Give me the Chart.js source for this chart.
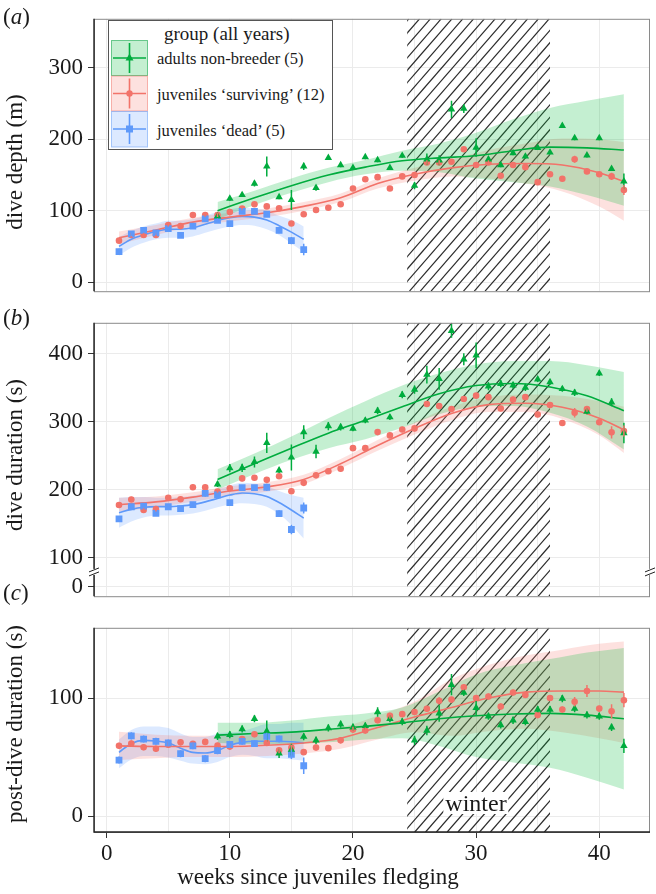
<!DOCTYPE html>
<html>
<head>
<meta charset="utf-8">
<script src="https://cdn.jsdelivr.net/npm/chart.js@4.4.0/dist/chart.umd.min.js"></script>
<style>
  body { margin: 0; background: #fff; width: 656px; height: 894px; position: relative; overflow: hidden;
         font-family: "Liberation Serif", "Times New Roman", serif; color: #1a1a1a; }
  canvas { position: absolute; left: 0; }
  .tag { position: absolute; left: 3px; font-size: 23px; line-height: 26px; }
  .ytitle { position: absolute; left: 15px; font-size: 23px; white-space: nowrap; line-height: 26px;
            transform: translate(-50%, -50%) rotate(-90deg); }
  #xtitle { position: absolute; left: 318px; top: 877px; font-size: 23px; white-space: nowrap; line-height: 26px;
            transform: translate(-50%, -50%); }
  #winter { position: absolute; left: 476px; top: 803px; font-size: 24px; line-height: 22px; background: #fff;
            padding: 0 2px; transform: translate(-50%, -50%); }
  #legend { position: absolute; left: 108px; top: 20px; width: 223px; height: 128px; border: 1px solid #555; background: #fff; }
  #legend .ttl { position: absolute; left: 55px; top: 1px; font-size: 19px; line-height: 24px; white-space: nowrap; }
  #legend .lab { position: absolute; left: 48px; font-size: 16.5px; line-height: 20px; white-space: nowrap; }
  #legend svg { position: absolute; left: 2px; top: 19px; }
</style>
</head>
<body>
<canvas id="cA" width="656" height="310" style="top:0px"></canvas>
<canvas id="cB" width="656" height="311" style="top:304px"></canvas>
<canvas id="cC" width="656" height="285" style="top:609px"></canvas>

<div class="tag" style="top:4px">(<i>a</i>)</div>
<div class="tag" style="top:305px">(<i>b</i>)</div>
<div class="tag" style="top:580px">(<i>c</i>)</div>
<div class="ytitle" style="top:162px">dive depth (m)</div>
<div class="ytitle" style="top:455px">dive duration (s)</div>
<div class="ytitle" style="top:724px">post-dive duration (s)</div>
<div id="xtitle">weeks since juveniles fledging</div>
<div id="winter">winter</div>

<div id="legend">
  <div class="ttl">group (all years)</div>
  <svg width="37" height="108" viewBox="0 0 37 108">
    <rect x="0.5" y="0.5" width="36" height="35" fill="rgba(0,186,56,0.23)" stroke="rgba(0,160,60,0.55)"/>
    <line x1="2" y1="18" x2="35" y2="18" stroke="#00AC3E" stroke-width="1.6"/>
    <line x1="18.5" y1="3" x2="18.5" y2="33" stroke="#00AC3E" stroke-width="1.6"/>
    <polygon points="18.5,13.5 22.5,20.5 14.5,20.5" fill="#00AC3E"/>
    <rect x="0.5" y="36" width="36" height="35" fill="rgba(248,118,109,0.22)" stroke="rgba(240,110,100,0.5)"/>
    <line x1="2" y1="53.5" x2="35" y2="53.5" stroke="#F2736A" stroke-width="1.6"/>
    <line x1="18.5" y1="38.5" x2="18.5" y2="68.5" stroke="#F2736A" stroke-width="1.6"/>
    <circle cx="18.5" cy="53.5" r="3.2" fill="#F2736A"/>
    <rect x="0.5" y="71.5" width="36" height="35.5" fill="rgba(97,156,255,0.22)" stroke="rgba(90,150,245,0.5)"/>
    <line x1="2" y1="89" x2="35" y2="89" stroke="#5E99FA" stroke-width="1.6"/>
    <line x1="18.5" y1="74" x2="18.5" y2="104" stroke="#5E99FA" stroke-width="1.6"/>
    <rect x="15" y="85.5" width="7" height="7" fill="#5E99FA"/>
  </svg>
  <div class="lab" style="top:28px">adults non-breeder (5)</div>
  <div class="lab" style="top:64px">juveniles ‘surviving’ (12)</div>
  <div class="lab" style="top:100px">juveniles ‘dead’ (5)</div>
</div>

<script>
// weeks
var weeksDead = [1, 2, 3, 4, 5, 6, 7, 8, 9, 10, 11, 12, 13, 14, 15, 16];
var weeksSurv = [1, 2, 3, 4, 5, 6, 7, 8, 9, 10, 11, 12, 13, 14, 15, 16, 17, 18, 19, 20, 21,
                 22, 23, 24, 25, 26, 27, 28, 29, 30, 31, 32, 33, 34, 35, 36, 37, 38, 39, 40, 41, 42];
var weeksAdult = [9, 10, 11, 12, 13, 14, 15, 16, 17, 18, 19, 20, 21, 22, 23, 24, 25,
                  26, 27, 28, 29, 30, 31, 32, 33, 34, 35, 36, 37, 38, 39, 40, 41, 42];
var winterStart = 24.4, winterEnd = 36;

// (a) dive depth (m)
var depthDead = [42.5, 67.5, 72.4, 68.8, 75, 65.3, 78.4, 88.5, 86.5, 82, 99, 99, 95, 72.4, 58, 45.5];
var depthSurv = [58, 66, 66, 66, 80, 78.4, 94, 94, 94, 98, 103, 109, 106, 103.5, 82, 95, 101, 104, 109, 131, 144,
                 147, 131, 148, 150, 167.5, 167.5, 168.5, 186, 164, 167.5, 149, 164, 161, 140, 151, 144.7, 172, 155, 151, 148, 129];
var depthAdult = [92, 117, 122, 138, 162, 119, 115, 162, 132, 174, 164, 160, 175, 171, 160, 177, 135,
                  172, 170.5, 242, 243, 188.5, 172, 164, 180.7, 176, 188, 181.6, 219, 201.7, 177.6, 201.7, 158.7, 141];
var depthDeadErr = [4, 3, 3, 3, 3, 3, 3, 3, 3, 3, 3, 3, 3, 4, 5, 8];
var depthSurvErr = [3, 3, 3, 3, 3, 3, 3, 3, 3, 3, 3, 3, 3, 3, 3, 3, 3, 3, 3, 3, 3,
                    3, 3, 3, 3, 3, 3, 3, 3, 3, 3, 3, 3, 3, 3, 3, 3, 5, 3, 3, 5, 7];
var depthAdultErr = [3, 3, 3, 4, 14, 3, 14, 5, 4, 3, 3, 3, 3, 3, 3, 3, 5,
                     8, 7, 12, 6, 13, 4, 3, 3, 3, 3, 3, 3, 3, 3, 3, 3, 11];
// smooth fits and bands
var deadFitW = [1, 2, 3, 4, 5, 6, 7, 8, 9, 10, 11, 12, 13, 14, 15, 16];
var depthDeadFit = [50, 60, 66, 71, 74, 74, 76, 81, 86, 90, 92, 91, 87, 79, 70, 60];
var depthDeadHi = [63, 72, 78, 82, 86, 86, 88, 93, 98, 102, 104, 103, 100, 93, 87, 78];
var depthDeadLo = [37, 48, 55, 60, 62, 62, 64, 69, 74, 78, 80, 79, 74, 66, 54, 42];
var survFitW = [1, 4, 7, 10, 13, 16, 19, 22, 25, 28, 31, 34, 37, 40, 42];
var depthSurvFit = [62, 73, 84, 91, 97, 106, 118, 138, 151, 160, 165, 166, 164, 153, 141];
var depthSurvHi = [71, 80, 90, 97, 103, 112, 124, 145, 160, 172, 185, 194, 201, 200, 196];
var depthSurvLo = [53, 66, 78, 85, 91, 100, 112, 131, 142, 148, 145, 138, 127, 106, 86];
var adultFitW = [9, 12, 15, 18, 21, 24, 27, 30, 33, 36, 39, 42];
var depthAdultFit = [100, 118, 135, 150, 161, 170, 174, 177, 184, 189, 188, 185];
var depthAdultHi = [112, 128, 145, 160, 171, 184, 194, 209, 228, 244, 254, 263];
var depthAdultLo = [88, 108, 125, 140, 151, 156, 154, 145, 140, 134, 122, 107];

// (b) dive duration (s)
var durDead = [157, 174.8, 175.6, 165, 174.8, 172.2, 178, 194.5, 192.4, 181, 203, 203, 203.5, 164.8, 141.4, 173];
var durSurv = [177.5, 185.4, 170, 171.3, 188, 185.8, 203.5, 203.3, 197, 202, 216.5, 217.4, 214.4, 219.6, 197.6, 210, 221, 227, 230.6, 261, 261,
               284.6, 279.7, 288.5, 290, 326, 322.8, 318.4, 333.3, 338.2, 336, 319.2, 332.4, 336, 310.5, 324.5, 298, 313.2, 318.4, 299, 284.2, 286.3];
var durAdult = [207.8, 231.5, 232, 240.7, 268.8, 228.3, 247.3, 284.6, 256, 293.4, 292, 289.9, 301.7, 316, 306.5, 339.5, 347,
                369, 363, 433.5, 391.7, 397.5, 352, 355.7, 353.5, 350, 362.3, 358, 348, 342.5, 314.9, 371, 328.5, 283.3];
var durDeadErr = [3, 3, 3, 3, 3, 3, 3, 5, 3, 3, 3, 3, 5, 5, 7, 8];
var durSurvErr = [4, 4, 4, 4, 4, 4, 4, 4, 4, 4, 4, 4, 4, 4, 4, 4, 4, 4, 4, 4, 4,
                  4, 4, 4, 4, 4, 4, 4, 4, 4, 4, 4, 4, 4, 4, 4, 4, 7, 4, 4, 9, 8];
var durAdultErr = [4, 6, 6, 8, 15, 4, 19, 10, 10, 6, 5, 4, 4, 5, 4, 5, 6,
                   13, 16, 10, 9, 19, 6, 5, 5, 5, 4, 4, 4, 5, 4, 4, 6, 15];
var durDeadFit = [166, 171, 174, 175, 175, 176, 178, 182, 187, 192, 195, 194, 190, 181, 170, 158];
var durDeadHi = [188, 189, 189, 188, 188, 189, 191, 195, 200, 206, 210, 209, 205, 198, 192, 188];
var durDeadLo = [144, 153, 159, 162, 162, 163, 165, 169, 174, 178, 180, 179, 175, 164, 148, 128];
var durSurvFit = [178, 182, 189, 198, 204, 215, 238, 265, 290, 312, 325, 327, 321, 305, 288];
var durSurvHi = [188, 190, 196, 205, 211, 222, 245, 273, 299, 322, 336, 340, 338, 330, 322];
var durSurvLo = [168, 174, 182, 191, 197, 208, 231, 257, 281, 302, 314, 314, 304, 280, 254];
var durAdultFit = [215, 238, 261, 283, 302, 322, 341, 353, 356, 351, 338, 316];
var durAdultHi = [230, 253, 278, 305, 330, 353, 371, 384, 389, 389, 383, 373];
var durAdultLo = [200, 223, 244, 261, 274, 291, 311, 322, 323, 313, 293, 259];

// (c) post-dive duration (s)
var postDead = [47.5, 68, 65.3, 63.4, 62, 52.9, 59.6, 48.7, 55.5, 60.7, 63.4, 61.5, 67.6, 65.4, 52.4, 42.7];
var postSurv = [59.6, 61.5, 58.4, 57.1, 60.5, 62.5, 61.2, 62.9, 59.7, 58.9, 65.4, 69.4, 62, 55.8, 58, 54.2, 58.1, 57.6, 64.2, 73.3, 72.5,
                81.2, 85, 86.4, 88.2, 90.9, 97.7, 98.7, 109.2, 100, 101.3, 92.9, 104.7, 102.7, 85.6, 100, 90.3, 96.9, 106, 91.1, 88.8, 98.2];
var postAdult = [67.6, 68.9, 73.8, 82.5, 72, 53.2, 56.3, 67.3, 64.2, 74.6, 77.8, 75.2, 76.4, 88.2, 82.5, 79.9, 64.2,
                 72.5, 87, 111.3, 104.7, 91.7, 84.6, 77.2, 81.1, 79.9, 90.3, 90.3, 99.5, 91.1, 85.6, 84.6, 75.2, 59.5];
var postDeadErr = [3, 3, 3, 3, 3, 3, 3, 3, 3, 3, 3, 3, 3, 3, 4, 7];
var postSurvErr = [2.5, 2.5, 2.5, 2.5, 2.5, 2.5, 2.5, 2.5, 2.5, 2.5, 2.5, 2.5, 2.5, 2.5, 2.5, 2.5, 2.5, 2.5, 2.5, 2.5, 2.5,
                   2.5, 2.5, 2.5, 2.5, 2.5, 3, 2.5, 2.5, 2.5, 2.5, 2.5, 2.5, 2.5, 2.5, 2.5, 2.5, 4, 5, 2.5, 6, 6];
var postAdultErr = [3, 3, 3, 3, 9, 4, 5, 3, 3, 3, 3, 3, 3, 4, 3, 3, 4,
                    4, 7, 9, 3, 6, 3, 3, 3, 3, 3, 3, 3, 3, 3, 3, 3, 6];
var postDeadFit = [54, 61.5, 64.2, 63.6, 62, 57.6, 54, 53.5, 55.5, 60, 62.5, 63.4, 63.4, 63.4, 63, 62];
var postDeadHi = [65, 73, 76, 76, 74.6, 70, 67, 67, 70, 71, 72, 75, 78, 78, 79, 79];
var postDeadLo = [40.6, 48, 51, 51, 49.7, 47, 44.5, 44, 45.8, 50, 52, 51, 49, 49, 48, 47];
var postSurvFit = [59.5, 59, 59, 59, 60, 62, 66, 75, 84, 92, 100, 105, 106, 106, 105];
var postSurvHi = [71.5, 69, 68, 68, 69, 71, 75, 85, 97, 116, 128, 136, 141, 146, 148];
var postSurvLo = [47.5, 49, 50, 50, 51, 53, 57, 65, 71, 68, 72, 74, 71, 66, 62];
var postAdultFit = [68.6, 70, 71.2, 73.5, 76, 79, 82.5, 85, 86.5, 87, 85.6, 82.5];
var postAdultHi = [79, 79, 81, 84.5, 87, 92, 105.5, 120, 127.5, 133, 138.6, 142.5];
var postAdultLo = [62, 61, 61, 62.5, 65, 66, 59.5, 50, 45.5, 41, 32.6, 22.5];

// axes
var xTicks = [0, 5, 10, 15, 20, 25, 30, 35, 40];
var depthTicks = [0, 100, 200, 300];
var durTicks = [57, 100, 200, 300, 400];   // 57 is where the broken axis shows "0"
var durTickLabels = ['0', '100', '200', '300', '400'];
var postTicks = [0, 100];

var GREEN = '#00AC3E', RED = '#F2736A', BLUE = '#5E99FA';
var GREEN_BAND = 'rgba(0,186,56,0.23)', RED_BAND = 'rgba(248,118,109,0.22)', BLUE_BAND = 'rgba(97,156,255,0.22)';

Chart.defaults.font.family = '"Liberation Serif", "Times New Roman", serif';
Chart.defaults.color = '#1a1a1a';

function xy(xs, ys) {
  return xs.map(function (x, i) { return { x: x, y: ys[i] }; });
}

function group(fitW, fit, hi, lo, weeks, vals, err, color, band, shape, radius, ptOrder) {
  return [
    { type: 'line', data: xy(fitW, hi), borderColor: 'transparent', borderWidth: 0, pointRadius: 0,
      backgroundColor: band, fill: '+1', cubicInterpolationMode: 'monotone', order: 10 },
    { type: 'line', data: xy(fitW, lo), borderColor: 'transparent', borderWidth: 0, pointRadius: 0,
      fill: false, cubicInterpolationMode: 'monotone', order: 10 },
    { type: 'line', data: xy(fitW, fit), borderColor: color, borderWidth: 1.6, pointRadius: 0,
      fill: false, cubicInterpolationMode: 'monotone', order: 5 },
    { type: 'scatter', data: xy(weeks, vals), err: err, pointStyle: shape, pointRadius: radius,
      backgroundColor: color, borderColor: color, borderWidth: 0, order: ptOrder }
  ];
}

var hatchPlugin = {
  id: 'hatch',
  beforeDatasetsDraw: function (chart) {
    var ctx = chart.ctx, a = chart.chartArea, x = chart.scales.x;
    var x0 = x.getPixelForValue(winterStart), x1 = x.getPixelForValue(winterEnd);
    ctx.save();
    ctx.beginPath();
    ctx.rect(x0, a.top, x1 - x0, a.bottom - a.top);
    ctx.clip();
    ctx.strokeStyle = '#2a2a2a';
    ctx.lineWidth = 1.2;
    var h = a.bottom - a.top, run = h / 1.15;
    for (var s = x0 - run - 20; s < x1 + 20; s += 10.8) {
      ctx.beginPath();
      ctx.moveTo(s, a.bottom);
      ctx.lineTo(s + run, a.top);
      ctx.stroke();
    }
    ctx.restore();
  }
};

var errPlugin = {
  id: 'errbars',
  afterDatasetsDraw: function (chart) {
    var ctx = chart.ctx, a = chart.chartArea, x = chart.scales.x, y = chart.scales.y;
    ctx.save();
    ctx.beginPath();
    ctx.rect(a.left, a.top, a.right - a.left, a.bottom - a.top);
    ctx.clip();
    chart.data.datasets.forEach(function (ds) {
      if (!ds.err) return;
      ctx.strokeStyle = ds.borderColor;
      ctx.lineWidth = 1.5;
      ds.data.forEach(function (p, j) {
        var px = x.getPixelForValue(p.x);
        ctx.beginPath();
        ctx.moveTo(px, y.getPixelForValue(p.y - ds.err[j]));
        ctx.lineTo(px, y.getPixelForValue(p.y + ds.err[j]));
        ctx.stroke();
      });
    });
    ctx.restore();
  }
};

var framePlugin = {
  id: 'frame',
  afterDraw: function (chart, args, opts) {
    var ctx = chart.ctx, a = chart.chartArea;
    ctx.save();
    ctx.strokeStyle = '#8a8a8a';
    ctx.lineWidth = 1;
    ctx.strokeRect(a.left + 0.5, a.top + 0.5, a.right - a.left - 1, a.bottom - a.top);
    ctx.strokeStyle = '#222';
    ctx.lineWidth = 1.4;
    ctx.beginPath();
    ctx.moveTo(a.left, a.top);
    ctx.lineTo(a.left, a.bottom);
    if (opts.bottomAxis) { ctx.lineTo(a.right, a.bottom); }
    ctx.stroke();
    if (opts.breakAt) {
      var by = chart.scales.y.getPixelForValue(opts.breakAt);
      [a.left, a.right].forEach(function (bx) {
        ctx.fillStyle = '#fff';
        ctx.fillRect(bx - 2, by - 3, 4, 6);
        ctx.strokeStyle = '#222';
        ctx.lineWidth = 1;
        [-2, 2].forEach(function (d) {
          ctx.beginPath();
          ctx.moveTo(bx - 5, by + d + 2);
          ctx.lineTo(bx + 5, by + d - 2);
          ctx.stroke();
        });
      });
    }
    ctx.restore();
  }
};

function makePanel(id, datasets, yMin, yMax, yTicks, yLabels, pad, showX, frameOpts) {
  return new Chart(document.getElementById(id).getContext('2d'), {
    type: 'line',
    data: { datasets: datasets },
    plugins: [hatchPlugin, errPlugin, framePlugin],
    options: {
      responsive: false,
      animation: false,
      devicePixelRatio: 1,
      layout: { padding: pad },
      plugins: { legend: { display: false }, tooltip: { enabled: false }, frame: frameOpts },
      scales: {
        x: {
          type: 'linear', min: -1.03, max: 44.12,
          afterBuildTicks: function (s) { s.ticks = xTicks.map(function (v) { return { value: v }; }); },
          afterFit: function (s) { s.height = showX ? 62 : 0; },
          border: { display: false },
          grid: {
            color: '#ebebeb', lineWidth: 1, drawTicks: showX, tickLength: 6,
            tickColor: function (c) { return c.tick && c.tick.value % 10 === 0 ? '#333' : 'rgba(0,0,0,0)'; }
          },
          ticks: {
            display: showX, padding: 2, maxRotation: 0, autoSkip: false,
            font: { size: 23 },
            callback: function (v) { return v % 10 === 0 ? String(v) : ''; }
          }
        },
        y: {
          type: 'linear', min: yMin, max: yMax,
          afterBuildTicks: function (s) { s.ticks = yTicks.map(function (v) { return { value: v }; }); },
          afterFit: function (s) { s.width = 94; },
          border: { display: false },
          grid: { color: '#ebebeb', lineWidth: 1, tickLength: 6, tickColor: '#333' },
          ticks: {
            padding: 5, autoSkip: false, font: { size: 23 },
            callback: function (v) { var i = yTicks.indexOf(v); return i >= 0 ? yLabels[i] : ''; }
          }
        }
      }
    }
  });
}

var dsA = [].concat(
  group(adultFitW, depthAdultFit, depthAdultHi, depthAdultLo, weeksAdult, depthAdult, depthAdultErr, GREEN, GREEN_BAND, 'triangle', 4.3, 1),
  group(survFitW, depthSurvFit, depthSurvHi, depthSurvLo, weeksSurv, depthSurv, depthSurvErr, RED, RED_BAND, 'circle', 3.3, 3),
  group(deadFitW, depthDeadFit, depthDeadHi, depthDeadLo, weeksDead, depthDead, depthDeadErr, BLUE, BLUE_BAND, 'rect', 4.8, 2)
);
var dsB = [].concat(
  group(adultFitW, durAdultFit, durAdultHi, durAdultLo, weeksAdult, durAdult, durAdultErr, GREEN, GREEN_BAND, 'triangle', 4.3, 1),
  group(survFitW, durSurvFit, durSurvHi, durSurvLo, weeksSurv, durSurv, durSurvErr, RED, RED_BAND, 'circle', 3.3, 3),
  group(deadFitW, durDeadFit, durDeadHi, durDeadLo, weeksDead, durDead, durDeadErr, BLUE, BLUE_BAND, 'rect', 4.8, 2)
);
var dsC = [].concat(
  group(adultFitW, postAdultFit, postAdultHi, postAdultLo, weeksAdult, postAdult, postAdultErr, GREEN, GREEN_BAND, 'triangle', 4.3, 1),
  group(survFitW, postSurvFit, postSurvHi, postSurvLo, weeksSurv, postSurv, postSurvErr, RED, RED_BAND, 'circle', 3.3, 3),
  group(deadFitW, postDeadFit, postDeadHi, postDeadLo, weeksDead, postDead, postDeadErr, BLUE, BLUE_BAND, 'rect', 4.8, 2)
);

makePanel('cA', dsA, -12.8, 368.8, depthTicks, depthTicks.map(String),
          { top: 17, bottom: 3, left: 0, right: 6 }, false, {});
makePanel('cB', dsB, 43.3, 445.3, durTicks, durTickLabels,
          { top: 3, bottom: 3, left: 0, right: 6 }, false, { breakAt: 79 });
makePanel('cC', dsC, -13.4, 159.5, postTicks, postTicks.map(String),
          { top: 3, bottom: 0, left: 0, right: 6 }, true, { bottomAxis: true });
</script>
</body>
</html>
